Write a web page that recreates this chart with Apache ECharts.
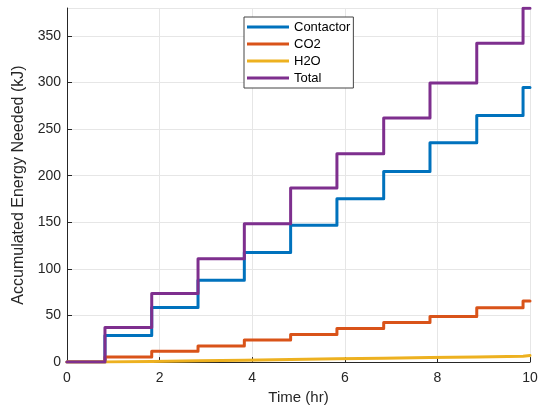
<!DOCTYPE html>
<html>
<head>
<meta charset="utf-8">
<script src="https://cdn.jsdelivr.net/npm/echarts@6/dist/echarts.min.js"></script>
<style>
  html, body { margin: 0; padding: 0; background: #fff; }
  #chart { width: 548px; height: 410px; }
</style>
</head>
<body>
<div id="chart"></div>
<script>
// times (hr) where each step rises
var stepTimes = [0.82, 1.83, 2.83, 3.83, 4.83, 5.83, 6.84, 7.84, 8.85, 9.85];
// level reached after each step (kJ)
var contactor = [28.6, 58.6, 87.9, 117.5, 146.8, 175.4, 204.6, 235.4, 264.6, 294.7];
var co2 = [5.6, 11.6, 17.2, 23.6, 29.7, 36.0, 42.5, 49.0, 58.3, 65.5];
var h2o = [0.7, 1.4, 2.1, 2.8, 3.5, 4.2, 4.9, 5.6, 6.3, 7.2];
var total = [37.2, 73.6, 111.0, 148.6, 186.9, 223.6, 261.9, 299.4, 342.2, 379.7];
var xEnd = 10;

// step series: start at 0, rise at each step time, hold to the end
function stepData(levels) {
  var d = [[0, 0]];
  for (var i = 0; i < stepTimes.length; i++) {
    d.push([stepTimes[i], levels[i]]);
  }
  d.push([xEnd, levels[levels.length - 1]]);
  return d;
}

var colors = ['#0072BD', '#D95319', '#EDB120', '#7E2F8E'];
var names = ['Contactor', 'CO2', 'H2O', 'Total'];
var values = [contactor, co2, h2o, total];

var chart = echarts.init(document.getElementById('chart'));

var series = [];
for (var i = 0; i < names.length; i++) {
  series.push({
    name: names[i],
    type: 'line',
    step: 'end',
    showSymbol: false,
    data: stepData(values[i]),
    lineStyle: { width: 3, color: colors[i], join: 'round', cap: 'round' },
    itemStyle: { color: colors[i] },
    z: 2 + i
  });
}

var option = {
  animation: false,
  backgroundColor: '#fff',
  textStyle: { fontFamily: 'Liberation Sans, Arial, sans-serif' },
  grid: { left: 67, right: 18, top: 8, bottom: 47 },
  legend: {
    data: names,
    orient: 'vertical',
    left: 244,
    top: 17,
    padding: [3, 3, 3, 3],
    itemGap: 3,
    itemWidth: 42,
    itemHeight: 3,
    icon: 'rect',
    backgroundColor: '#fff',
    borderColor: '#444',
    borderWidth: 1,
    borderRadius: 0,
    textStyle: { fontSize: 13, color: '#000', lineHeight: 14, fontFamily: 'Liberation Sans, Arial, sans-serif' }
  },
  xAxis: {
    type: 'value',
    min: 0,
    max: 10,
    interval: 2,
    name: 'Time (hr)',
    nameLocation: 'middle',
    nameGap: 27,
    nameTextStyle: { fontSize: 15, color: '#262626' },
    axisLine: { show: true, lineStyle: { color: '#262626', width: 1 } },
    axisTick: { show: true, inside: true, length: 5, lineStyle: { color: '#262626' } },
    axisLabel: { fontSize: 14, color: '#262626', margin: 9 },
    splitLine: { show: true, lineStyle: { color: '#e6e6e6', width: 1 } }
  },
  yAxis: {
    type: 'value',
    min: 0,
    max: 380,
    interval: 50,
    name: 'Accumulated Energy Needed (kJ)',
    nameLocation: 'middle',
    nameGap: 32,
    nameTextStyle: { fontSize: 16, color: '#262626' },
    axisLine: { show: true, lineStyle: { color: '#262626', width: 1 } },
    axisTick: { show: true, inside: true, length: 5, lineStyle: { color: '#262626' } },
    axisLabel: { fontSize: 14, color: '#262626', margin: 6, showMaxLabel: false },
    splitLine: { show: true, lineStyle: { color: '#e6e6e6', width: 1 } }
  },
  series: series
};

chart.setOption(option);
</script>
</body>
</html>
